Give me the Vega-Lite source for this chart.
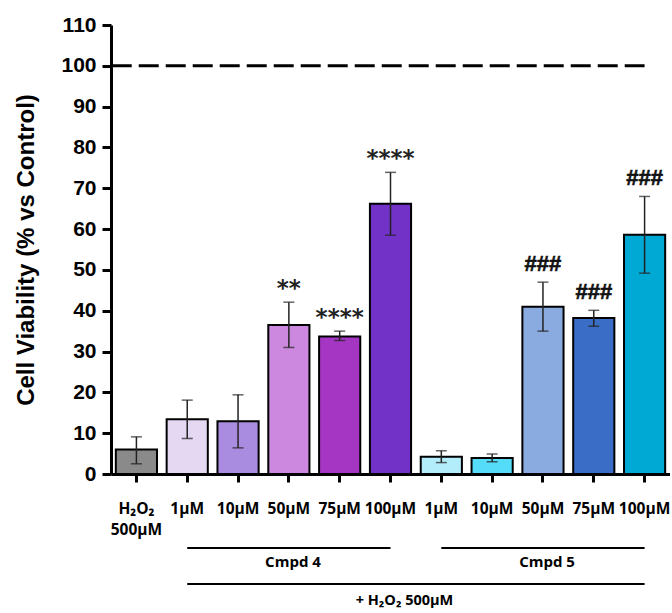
{
  "$schema": "https://vega.github.io/schema/vega-lite/v6.json",
  "padding": {"left": 14, "top": 14, "right": 0, "bottom": 0},
  "bounds": "flush",
  "spacing": 74,
  "config": {"view": {"stroke": null}, "background": "white"},
  "datasets": {
    "bars": [
      {"id": "H|H₂O₂|500µM", "mean": 6, "lo": 2.5, "hi": 9.1, "sig": ""},
      {"id": "A1|1µM", "mean": 13.4, "lo": 8.7, "hi": 18.1, "sig": ""},
      {"id": "A10|10µM", "mean": 12.9, "lo": 6.4, "hi": 19.4, "sig": ""},
      {"id": "A50|50µM", "mean": 36.5, "lo": 31, "hi": 42.1, "sig": "**"},
      {"id": "A75|75µM", "mean": 33.7, "lo": 32.7, "hi": 35, "sig": "****"},
      {"id": "A100|100µM", "mean": 66.2, "lo": 58.5, "hi": 73.9, "sig": "****"},
      {"id": "B1|1µM", "mean": 4.2, "lo": 2.8, "hi": 5.7, "sig": ""},
      {"id": "B10|10µM", "mean": 3.9, "lo": 3, "hi": 4.9, "sig": ""},
      {"id": "B50|50µM", "mean": 41, "lo": 35, "hi": 47, "sig": "###"},
      {"id": "B75|75µM", "mean": 38.2, "lo": 36.2, "hi": 40.1, "sig": "###"},
      {"id": "B100|100µM", "mean": 58.6, "lo": 49.2, "hi": 68, "sig": "###"}
    ],
    "reference": [{"ref": 100}],
    "brackets": [
      {"from": "A1|1µM", "to": "A100|100µM", "level": "group", "label": "Cmpd 4", "mid": "A50|50µM"},
      {"from": "B1|1µM", "to": "B100|100µM", "level": "group", "label": "Cmpd 5", "mid": "B50|50µM"},
      {"from": "A1|1µM", "to": "B100|100µM", "level": "all", "label": "+ H₂O₂ 500µM", "mid": "A100|100µM"}
    ]
  },
  "vconcat": [
    {
      "width": 559,
      "height": 449,
      "data": {"name": "bars"},
      "encoding": {
        "x": {
          "field": "id", "type": "nominal", "sort": null,
          "scale": {
            "domain": ["H|H₂O₂|500µM", "A1|1µM", "A10|10µM", "A50|50µM", "A75|75µM", "A100|100µM", "B1|1µM", "B10|10µM", "B50|50µM", "B75|75µM", "B100|100µM"],
            "paddingInner": 0.19, "paddingOuter": 0.095
          },
          "axis": {
            "title": null,
            "labelExpr": "slice(split(datum.value, '|'), 1)",
            "labelAngle": 0,
            "labelFont": "Open Sans",
            "labelFontWeight": "bold",
            "labelFontSize": 15.5,
            "labelColor": "black",
            "labelPadding": 19,
            "labelLineHeight": 21,
            "labelOverlap": false,
            "labelBound": false,
            "domainWidth": 3,
            "domainColor": "black",
            "tickWidth": 3,
            "tickColor": "black",
            "tickSize": 8
          }
        }
      },
      "layer": [
        {
          "mark": {"type": "bar", "stroke": "black", "strokeWidth": 2},
          "encoding": {
            "y": {
              "field": "mean", "type": "quantitative",
              "title": "Cell Viability (% vs Control)",
              "scale": {"domain": [0, 110], "nice": false},
              "axis": {
                "values": [0, 10, 20, 30, 40, 50, 60, 70, 80, 90, 100, 110],
                "grid": false,
                "domainWidth": 3, "domainColor": "black",
                "tickWidth": 3, "tickColor": "black", "tickSize": 9,
                "labelFont": "Liberation Sans", "labelFontWeight": "bold", "labelFontSize": 21, "labelColor": "black", "labelPadding": 6,
                "titleFont": "Liberation Sans", "titleFontWeight": "bold", "titleFontSize": 24, "titleColor": "black", "titlePadding": 22
              }
            },
            "color": {
              "field": "id", "type": "nominal", "legend": null,
              "scale": {
                "domain": ["H|H₂O₂|500µM", "A1|1µM", "A10|10µM", "A50|50µM", "A75|75µM", "A100|100µM", "B1|1µM", "B10|10µM", "B50|50µM", "B75|75µM", "B100|100µM"],
                "range": ["#8a8a8a", "#e4d8f2", "#a98bdf", "#cc88de", "#a536c4", "#7232c8", "#b3ecfa", "#55dcf8", "#8aabdf", "#3a6ec6", "#00a8d4"]
              }
            }
          }
        },
        {
          "mark": {"type": "rule", "strokeWidth": 1.5, "color": "#222222"},
          "encoding": {
            "y": {"field": "lo", "type": "quantitative", "title": "Cell Viability (% vs Control)"},
            "y2": {"field": "hi"}
          }
        },
        {
          "mark": {"type": "tick", "thickness": 1.5, "size": 11, "color": "#222222"},
          "encoding": {"y": {"field": "hi", "type": "quantitative", "title": "Cell Viability (% vs Control)"}}
        },
        {
          "mark": {"type": "tick", "thickness": 1.5, "size": 11, "color": "#222222"},
          "encoding": {"y": {"field": "lo", "type": "quantitative", "title": "Cell Viability (% vs Control)"}}
        },
        {
          "transform": [{"filter": "indexof(datum.sig, '*') >= 0"}],
          "mark": {"type": "text", "font": "DejaVu Sans", "fontWeight": "bold", "fontSize": 23, "baseline": "alphabetic", "dy": -6, "color": "#222222"},
          "encoding": {
            "y": {"field": "hi", "type": "quantitative", "title": "Cell Viability (% vs Control)"},
            "text": {"field": "sig"}
          }
        },
        {
          "transform": [{"filter": "indexof(datum.sig, '#') >= 0"}],
          "mark": {"type": "text", "font": "Liberation Sans", "fontWeight": "bold", "fontSize": 22, "baseline": "alphabetic", "dy": -11, "color": "#111111", "stroke": "#111111", "strokeWidth": 0.6},
          "encoding": {
            "y": {"field": "hi", "type": "quantitative", "title": "Cell Viability (% vs Control)"},
            "text": {"field": "sig"}
          }
        },
        {
          "data": {"name": "reference"},
          "mark": {"type": "rule", "strokeWidth": 3, "strokeDash": [20, 7], "color": "black"},
          "encoding": {
            "y": {"field": "ref", "type": "quantitative", "title": "Cell Viability (% vs Control)"},
            "x": {"datum": "H|H₂O₂|500µM", "bandPosition": -0.1},
            "x2": {"datum": "B100|100µM"}
          }
        }
      ]
    },
    {
      "width": 559,
      "height": 36,
      "data": {"name": "brackets"},
      "encoding": {
        "y": {"field": "level", "type": "nominal", "scale": {"type": "point", "domain": ["group", "all"], "padding": 0}, "axis": null}
      },
      "layer": [
        {
          "mark": {"type": "rule", "strokeWidth": 2, "color": "black"},
          "encoding": {
            "x": {
              "field": "from", "type": "nominal", "axis": null,
              "scale": {
                "domain": ["H|H₂O₂|500µM", "A1|1µM", "A10|10µM", "A50|50µM", "A75|75µM", "A100|100µM", "B1|1µM", "B10|10µM", "B50|50µM", "B75|75µM", "B100|100µM"],
                "paddingInner": 0.19, "paddingOuter": 0.095
              }
            },
            "x2": {"field": "to"}
          }
        },
        {
          "transform": [{"filter": "datum.level == 'group'"}],
          "mark": {"type": "text", "font": "Open Sans", "fontWeight": "bold", "fontSize": 15, "dy": 14, "baseline": "middle", "color": "black"},
          "encoding": {
            "x": {"field": "mid", "type": "nominal", "axis": null, "bandPosition": 0.6},
            "text": {"field": "label"}
          }
        },
        {
          "transform": [{"filter": "datum.level == 'all'"}],
          "mark": {"type": "text", "font": "Open Sans", "fontWeight": "bold", "fontSize": 14.5, "dy": 17, "baseline": "middle", "color": "black"},
          "encoding": {
            "x": {"field": "mid", "type": "nominal", "axis": null, "bandPosition": 0.84},
            "text": {"field": "label"}
          }
        }
      ]
    }
  ]
}
